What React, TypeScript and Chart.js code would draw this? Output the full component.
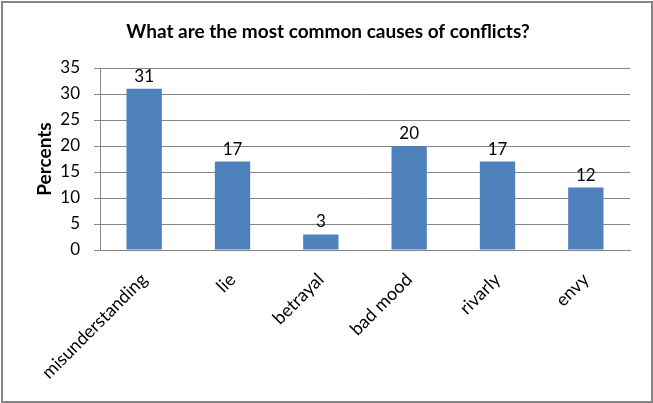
import React, { useEffect, useRef } from "react";
import { Chart, registerables } from "chart.js";

Chart.register(...registerables);

const categories = ["misunderstanding", "lie", "betrayal", "bad mood", "rivarly", "envy"];
const percents = [31, 17, 3, 20, 17, 12];
const yTicks = [0, 5, 10, 15, 20, 25, 30, 35];

const FONT = "Lato, 'Open Sans', sans-serif";

const frame = {
  id: "frame",
  afterDraw(chart: any) {
    const ctx = chart.ctx;
    ctx.save();
    ctx.strokeStyle = "#868686";
    ctx.lineWidth = 2;
    ctx.strokeRect(2, 2, chart.width - 3, chart.height - 3);
    ctx.restore();
  },
};

const valueLabels = {
  id: "valueLabels",
  afterDatasetsDraw(chart: any) {
    const ctx = chart.ctx;
    const meta = chart.getDatasetMeta(0);
    const data = chart.data.datasets[0].data;
    ctx.save();
    ctx.font = `17px ${FONT}`;
    ctx.fillStyle = "#000";
    ctx.textAlign = "center";
    ctx.textBaseline = "alphabetic";
    meta.data.forEach((el: any, i: number) => {
      ctx.fillText(String(data[i]), el.x, el.y - 7);
    });
    ctx.restore();
  },
};

export default function App() {
  const ref = useRef<HTMLCanvasElement>(null);
  useEffect(() => {
    const chart = new Chart(ref.current!, {
      type: "bar",
      data: {
        labels: categories,
        datasets: [
          {
            data: percents,
            backgroundColor: "#4F81BD",
            categoryPercentage: 1,
            barPercentage: 0.4,
          },
        ],
      },
      options: {
        animation: false,
        responsive: false,
        devicePixelRatio: 1,
        layout: { padding: { left: 3, right: 0, top: 0, bottom: 0 } },
        plugins: {
          legend: { display: false },
          tooltip: { enabled: false },
          title: {
            display: true,
            text: "What are the most common causes of conflicts?",
            color: "#000",
            font: { family: FONT, size: 19, weight: "bold", lineHeight: 1.2 },
            padding: { top: 20.6, bottom: 24.6 },
          },
        },
        scales: {
          x: {
            grid: { display: false },
            border: { display: true, color: "#868686", width: 1 },
            ticks: {
              color: "#000",
              font: { family: FONT, size: 18 },
              maxRotation: 45,
              minRotation: 45,
              autoSkip: false,
              labelOffset: 0,
              padding: 11,
            },
            afterFit(scale: any) {
              scale.height = 153;
            },
          },
          y: {
            min: 0,
            max: 35,
            afterBuildTicks(scale: any) {
              scale.ticks = yTicks.map((v) => ({ value: v }));
            },
            grid: { color: "#868686", tickLength: 6, drawTicks: true },
            border: { display: true, color: "#868686", width: 1 },
            ticks: {
              color: "#000",
              font: { family: FONT, size: 17 },
              padding: 14,
            },
            title: {
              display: true,
              text: "Percents",
              color: "#000",
              font: { family: FONT, size: 19, weight: "bold", lineHeight: 1.2 },
              padding: { top: 30.6, bottom: 0 },
            },
            afterFit(scale: any) {
              scale.width = 97;
            },
          },
          spacer: {
            type: "linear",
            axis: "y",
            position: "right",
            display: true,
            grid: { display: false, drawTicks: false },
            border: { display: false },
            ticks: { display: false },
            afterFit(scale: any) {
              scale.width = 23;
            },
          },
        },
      },
      plugins: [frame, valueLabels],
    } as any);
    return () => chart.destroy();
  }, []);
  return (
    <div style={{ position: "absolute", left: 0, top: 0, width: 653, height: 403, background: "#fff" }}>
      <canvas ref={ref} width={653} height={403} />
    </div>
  );
}
